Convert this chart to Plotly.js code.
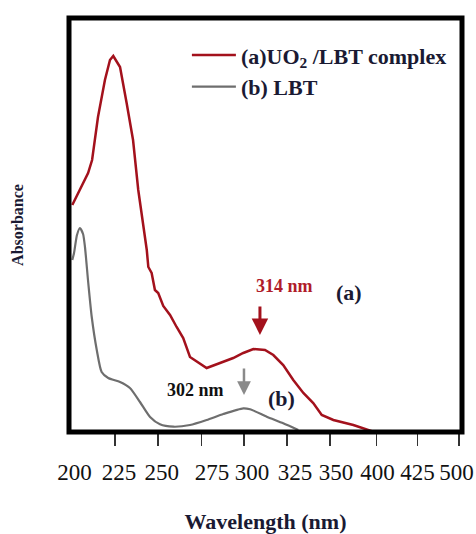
<!DOCTYPE html>
<html>
<head>
<meta charset="utf-8">
<script src="https://cdn.plot.ly/plotly-3.0.1.min.js"></script>
<style>html,body{margin:0;padding:0;background:#fff;}#chart{width:476px;height:534px;}</style>
</head>
<body>
<div id="chart"></div>
<script>
// Wavelength positions (in the chart's axis units) and absorbance (a.u.)
const complexWavelength = [202.3,206.7,211.4,213.7,217.1,221.1,224.0,225.9,229.8,233.6,237.3,240.3,243.2,245.2,246.1,248.0,249.9,251.8,254.7,258.6,262.4,266.2,270.1,279.7,287.4,295.0,300.8,306.6,313.3,318.1,323.8,329.6,335.4,341.1,346.0,352.7,364.2,375.7];
const complexAbsorbance = [2.27,2.43,2.59,2.72,3.15,3.52,3.72,3.76,3.65,3.29,2.92,2.42,2.09,1.82,1.65,1.59,1.42,1.39,1.26,1.17,1.05,0.94,0.75,0.64,0.69,0.74,0.79,0.83,0.82,0.77,0.67,0.52,0.39,0.29,0.17,0.12,0.07,0.003];

const ligandWavelength = [202.3,203.3,205.0,206.7,208.5,209.6,211.5,213.5,216.4,219.2,223.0,229.8,235.5,241.3,247.1,252.8,260.5,270.1,279.7,289.3,300.8,304.7,314.3,323.8,332.5];
const ligandAbsorbance = [1.72,1.79,1.97,2.04,1.98,1.85,1.49,1.15,0.82,0.60,0.54,0.50,0.44,0.30,0.15,0.077,0.053,0.07,0.12,0.18,0.237,0.227,0.153,0.087,0.02];

// Axis tick marks and their labels (as printed in the original figure)
const tickPositions = [200,227,251.7,276.8,301.2,325.9,350.7,377.6,401.3,425];
const labelPositions = [203.6,229.2,253.8,282.8,305.8,330.6,354.2,378.1,401.2,423.6];
const tickLabels = ['200','225','250','275','300','325','350','400','425','500'];

const seriesNames = ['(a)UO<sub>2</sub> /LBT complex', '(b) LBT'];

const serif = '"Liberation Serif", "Times New Roman", "DejaVu Serif", serif';
const ink = '#1a1a33';
const xRange = [200.4, 426.8];
const yRange = [0, 4.14];

const traces = [
  {x: complexWavelength, y: complexAbsorbance, mode: 'lines', name: seriesNames[0],
   line: {color: '#a3111c', width: 2.5}, xaxis: 'x', yaxis: 'y'},
  {x: ligandWavelength, y: ligandAbsorbance, mode: 'lines', name: seriesNames[1],
   line: {color: '#6e6e6e', width: 2.2, shape: 'spline', smoothing: 0.6}, xaxis: 'x2', yaxis: 'y'}
];

const layout = {
  width: 476, height: 534,
  margin: {l: 69, r: 14, t: 18, b: 102},
  paper_bgcolor: '#ffffff', plot_bgcolor: '#ffffff',
  font: {family: serif, color: ink},
  showlegend: true,
  legend: {
    x: 0.3, y: 0.961, xanchor: 'left', yanchor: 'top',
    bgcolor: 'rgba(0,0,0,0)', borderwidth: 0,
    font: {family: serif, size: 22, color: ink, weight: 'bold'},
    itemwidth: 44, tracegroupgap: 0
  },
  xaxis: {
    range: xRange, tickmode: 'array', tickvals: tickPositions,
    showticklabels: false, ticks: 'outside', ticklen: 13, tickwidth: 1.5, tickcolor: '#333',
    showgrid: false, zeroline: false, showline: false, fixedrange: true
  },
  xaxis2: {
    overlaying: 'x', anchor: 'y', side: 'bottom',
    range: xRange, tickmode: 'array', tickvals: labelPositions, ticktext: tickLabels,
    ticks: '', ticklabelstandoff: 24,
    tickfont: {family: serif, size: 23, color: '#111'},
    showgrid: false, zeroline: false, showline: false, fixedrange: true,
    title: {text: 'Wavelength (nm)', standoff: 31, font: {family: serif, size: 22, color: ink, weight: 'bold'}}
  },
  yaxis: {
    range: yRange, showticklabels: false, ticks: '', showgrid: false, zeroline: false, showline: false,
    fixedrange: true,
    title: {text: 'Absorbance', standoff: 40, font: {family: serif, size: 16, color: ink, weight: 'bold'}}
  },
  shapes: [
    {type: 'rect', xref: 'paper', yref: 'paper', x0: 0, x1: 1, y0: 0, y1: 1,
     line: {color: '#000', width: 5}, layer: 'above'}
  ],
  annotations: [
    {x: 324.4, y: 1.46, xref: 'x', yref: 'y', text: '314 nm', showarrow: false,
     font: {family: serif, size: 18, color: '#b01c2a', weight: 'bold'}},
    {x: 361.7, y: 1.40, xref: 'x', yref: 'y', text: '(a)', showarrow: false,
     font: {family: serif, size: 22, color: ink, weight: 'bold'}},
    {x: 273.3, y: 0.42, xref: 'x', yref: 'y', text: '302 nm', showarrow: false,
     font: {family: serif, size: 18, color: '#111', weight: 'bold'}},
    {x: 323.1, y: 0.34, xref: 'x', yref: 'y', text: '(b)', showarrow: false,
     font: {family: serif, size: 22, color: ink, weight: 'bold'}},
    {x: 310.4, y: 0.97, xref: 'x', yref: 'y', ax: 310.4, ay: 1.27, axref: 'x', ayref: 'y',
     text: '', showarrow: true, arrowhead: 2, arrowsize: 1.1, arrowwidth: 3, arrowcolor: '#a3111c'},
    {x: 301.2, y: 0.37, xref: 'x', yref: 'y', ax: 301.2, ay: 0.65, axref: 'x', ayref: 'y',
     text: '', showarrow: true, arrowhead: 2, arrowsize: 1.1, arrowwidth: 2.5, arrowcolor: '#8a8a8a'}
  ]
};

Plotly.newPlot('chart', traces, layout, {staticPlot: true, displayModeBar: false});
</script>
</body>
</html>
